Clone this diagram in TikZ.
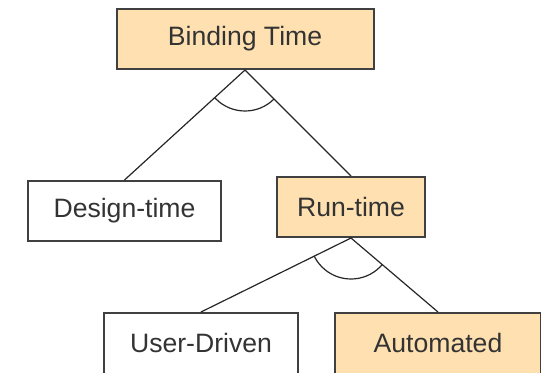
\documentclass[tikz,border=0pt]{standalone}
\usepackage{fontspec}
\setmainfont{Liberation Sans}
\usepackage{tikz}
\definecolor{featfill}{RGB}{255,224,176}
\definecolor{featline}{RGB}{64,64,64}
\begin{document}
\begin{tikzpicture}[x=0.5pt, y=-0.5pt,
		feat/.style={draw=featline, line width=1pt, rectangle, inner sep=0pt, minimum height=30pt, text=black!80, font=\fontsize{13.3}{16}\selectfont},
		opt/.style={feat, fill=featfill},
		low/.style={minimum height=34pt, text depth=4.5pt},
		link/.style={black!85, line width=0.6pt}]
				      \useasboundingbox (0, 0) rectangle (541, 372);
				      \node[opt, minimum width=128.5pt] (bind) at (245, 39) {Binding Time};
				      \node[feat, minimum width=96.5pt] (design) at (124.5, 211) {Design-time};
				      \node[opt, minimum width=74pt] (run) at (351, 207) {Run-time};
				      \node[feat, low, minimum width=97pt] (user) at (201, 347) {User-Driven};
				      \node[opt, low, minimum width=103pt] (auto) at (438, 347) {Automated};
				      \draw[link] (bind.south) -- (design.north);
				      \draw[link] (bind.south) -- (run.north);
				      \draw[link] (run.south) -- (user.north);
				      \draw[link] (run.south) -- (auto.north);
				      \begin{scope}
				      \clip (bind.south) -- (design.north) -- (run.north) -- cycle;
				      \draw[link] (bind.south) circle[radius=20.5pt];
				      \end{scope}
				      \begin{scope}
				      \clip (run.south) -- (user.north) -- (auto.north) -- cycle;
				      \draw[link] (run.south) circle[radius=20.5pt];
				      \end{scope}
			      \end{tikzpicture}
\end{document}
